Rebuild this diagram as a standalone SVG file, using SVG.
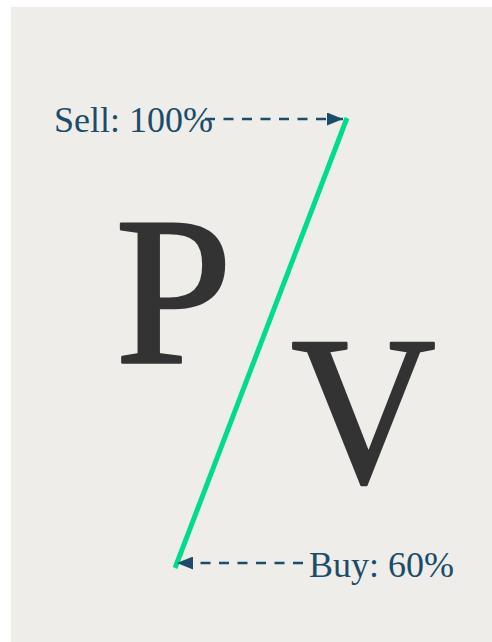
<svg xmlns="http://www.w3.org/2000/svg" width="492" height="642" viewBox="0 0 492 642">
<style>
.lbl{font-family:"Liberation Serif","DejaVu Serif",serif;font-size:36px;fill:#1B4D6B}
.big{font-family:"Liberation Serif","DejaVu Serif",serif;font-size:211px;fill:#333333;stroke:#333333;stroke-width:2.5;stroke-linejoin:round}
.conn{stroke:#1B4D6B;stroke-width:2.6;stroke-dasharray:10 8.5;fill:none}
</style>
<defs>
<marker id="ah" markerUnits="userSpaceOnUse" markerWidth="17" markerHeight="13" refX="16" refY="6.5" orient="auto">
<path d="M0,0 L16,6.5 L0,13 z" fill="#1B4D6B"/>
</marker>
</defs>
<rect x="11" y="7" width="481" height="635" fill="#EFEDE9"/>
<g id="slash"><line x1="347" y1="118" x2="175" y2="568" stroke="#00DC8E" stroke-width="5"/></g>
<g id="letter-p"><text class="big" x="115" y="363">P</text></g>
<g id="letter-v"><text class="big" x="291" y="482" textLength="145" lengthAdjust="spacingAndGlyphs">V</text></g>
<g id="sell"><text class="lbl" x="54" y="132">Sell: 100%</text></g>
<g id="buy"><text class="lbl" x="309" y="577">Buy: 60%</text></g>
<g id="connectors">
<line class="conn" x1="205" y1="119" x2="343" y2="119" marker-end="url(#ah)"/>
<line class="conn" x1="303" y1="563" x2="177" y2="563" marker-end="url(#ah)"/>
</g>
</svg>
